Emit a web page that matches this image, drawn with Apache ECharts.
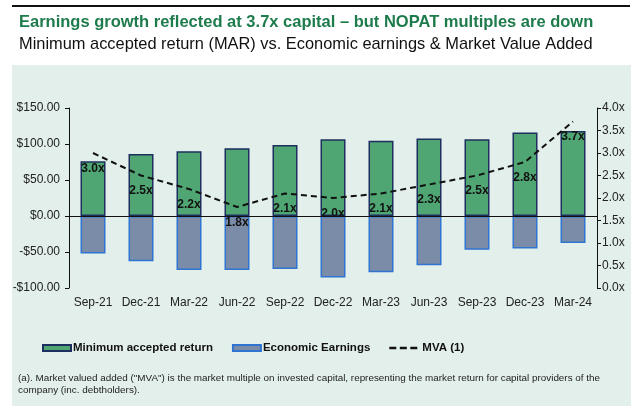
<!DOCTYPE html>
<html>
<head>
<meta charset="utf-8">
<script src="https://cdn.jsdelivr.net/npm/echarts@6/dist/echarts.min.js"></script>
<style>
html,body{margin:0;padding:0;background:#ffffff;}
#chart{width:640px;height:418px;}
</style>
</head>
<body>
<div id="chart"></div>
<script>
const categories = ['Sep-21','Dec-21','Mar-22','Jun-22','Sep-22','Dec-22','Mar-23','Jun-23','Sep-23','Dec-23','Mar-24'];
const marValues = [76, 86, 90, 94, 98.5, 106.5, 104.5, 107.5, 106.5, 116, 118];
const economicEarnings = [-52, -63, -75, -75, -73.5, -85.5, -78, -68.5, -47, -45, -37.5];
const mvaValues = [3.0, 2.5, 2.2, 1.8, 2.1, 2.0, 2.1, 2.3, 2.5, 2.8, 3.7];
const leftTicks = {min: -100, max: 150, interval: 50};
const rightTicks = {min: 0, max: 4, interval: 0.5};

const FONT = '"Liberation Sans", Arial, sans-serif';
const chart = echarts.init(document.getElementById('chart'));

chart.setOption({
  animation: false,
  textStyle: {fontFamily: FONT},
  graphic: [
    {type: 'line', shape: {x1: 12, y1: 6, x2: 630, y2: 6}, style: {stroke: '#111', lineWidth: 2}},
    {type: 'rect', shape: {x: 12, y: 65, width: 619, height: 341}, style: {fill: '#e2efeb'}, z: -10},
    {type: 'text', left: 18, top: 372, style: {
      text: '(a). Market valued added ("MVA") is the market multiple on invested capital, representing the market return for capital providers of the\ncompany (inc. debtholders).',
      font: '9.9px ' + FONT, fill: '#222', lineHeight: 12.5}}
  ],
  title: [
    {text: 'Earnings growth reflected at 3.7x capital \u2013 but NOPAT multiples are down', left: 14, top: 9,
     textStyle: {fontSize: 16.5, fontWeight: 'bold', color: '#1e7b4c', fontFamily: FONT}},
    {text: 'Minimum accepted return (MAR) vs. Economic earnings & Market Value Added', left: 14, top: 31,
     textStyle: {fontSize: 16.4, fontWeight: 'normal', color: '#111', fontFamily: FONT}}
  ],
  legend: {
    left: 37, top: 337, itemWidth: 28, itemHeight: 6, itemGap: 19,
    textStyle: {fontSize: 11.5, fontWeight: 'bold', color: '#111', fontFamily: FONT, padding: [0, 0, 0, -3]},
    data: [
      {name: 'Minimum accepted return', icon: 'rect'},
      {name: 'Economic Earnings', icon: 'rect'},
      {name: 'MVA (1)', icon: 'path://M0,0H6V2H0Z M9,0H15V2H9Z M18,0H24V2H18Z',
       itemStyle: {color: '#111', borderWidth: 0},
       textStyle: {padding: [0, 0, 0, 0]}}
    ]
  },
  grid: {left: 69, right: 43, top: 108, bottom: 130},
  xAxis: {
    type: 'category', data: categories,
    axisLine: {show: false}, axisTick: {show: false},
    axisLabel: {color: '#222', fontSize: 12, margin: 9, interval: 0, fontFamily: FONT}
  },
  yAxis: [
    {type: 'value', min: leftTicks.min, max: leftTicks.max, interval: leftTicks.interval,
     axisLine: {show: true, lineStyle: {color: '#111', width: 1}},
     axisTick: {show: true, length: 4, lineStyle: {color: '#111'}},
     splitLine: {show: false},
     axisLabel: {color: '#222', fontSize: 12, margin: 9, fontFamily: FONT,
       formatter: v => (v < 0 ? '-$' : '$') + Math.abs(v).toFixed(2)}},
    {type: 'value', min: rightTicks.min, max: rightTicks.max, interval: rightTicks.interval,
     position: 'right',
     axisLine: {show: true, lineStyle: {color: '#111', width: 1}},
     axisTick: {show: true, length: 4, lineStyle: {color: '#111'}},
     splitLine: {show: false},
     axisLabel: {color: '#222', fontSize: 12, margin: 5, fontFamily: FONT,
       formatter: v => v.toFixed(1) + 'x'}}
  ],
  series: [
    {name: 'Minimum accepted return', type: 'bar', stack: 'a', data: marValues, barWidth: 25,
     itemStyle: {color: '#4fa673', borderColor: '#1c2f5e', borderWidth: 1.5},
     markLine: {silent: true, symbol: 'none', label: {show: false},
       lineStyle: {color: '#111', type: 'solid', width: 1.2},
       data: [{yAxis: 0}], z: 5}},
    {name: 'Economic Earnings', type: 'bar', stack: 'a', data: economicEarnings, barWidth: 25,
     itemStyle: {color: '#7a8ca8', borderColor: '#2f74d0', borderWidth: 1.5}},
    {name: 'MVA (1)', type: 'line', yAxisIndex: 1, data: mvaValues,
     symbol: 'circle', symbolSize: 1, showSymbol: true, z: 10,
     lineStyle: {color: '#111', width: 2, type: [6, 4]},
     itemStyle: {color: 'rgba(0,0,0,0)', borderWidth: 0},
     label: {show: true, position: 'bottom', distance: 9, fontSize: 12, fontWeight: 'bold',
       color: '#111', fontFamily: FONT, formatter: p => p.value.toFixed(1) + 'x'}}
  ]
});
</script>
</body>
</html>
